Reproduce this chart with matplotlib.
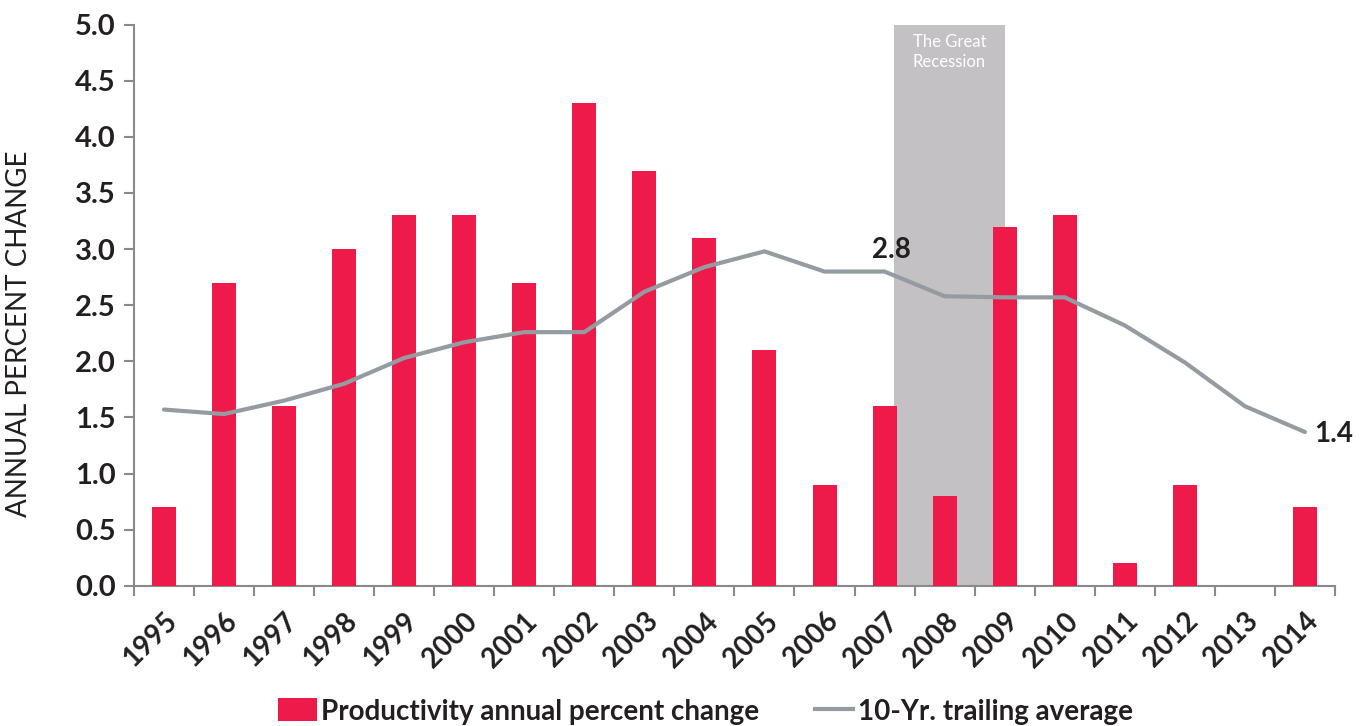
import matplotlib
matplotlib.use("Agg")
import matplotlib.pyplot as plt
from matplotlib.patches import Patch
from matplotlib.lines import Line2D

years = [str(y) for y in range(1995, 2015)]
productivity = [0.7, 2.7, 1.6, 3.0, 3.3, 3.3, 2.7, 4.3, 3.7, 3.1,
                2.1, 0.9, 1.6, 0.8, 3.2, 3.3, 0.2, 0.9, 0.0, 0.7]
trailing_avg = [1.57, 1.53, 1.65, 1.80, 2.03, 2.17, 2.26, 2.26, 2.62, 2.84,
                2.98, 2.80, 2.80, 2.58, 2.57, 2.57, 2.32, 1.99, 1.60, 1.37]
yticks = [0.0, 0.5, 1.0, 1.5, 2.0, 2.5, 3.0, 3.5, 4.0, 4.5, 5.0]
recession_start, recession_end = 12.16, 14.0
annot_points = [(12, "2.8"), (19, "1.4")]

RED = "#ED1A4A"
GRAY_LINE = "#959CA1"
BOX = "#C3C1C3"
SPINE = "#8A8A8A"
TXT = "#231F20"

plt.rcParams['font.family'] = ['Lato', 'DejaVu Sans']

fig = plt.figure(figsize=(13.64, 7.26), dpi=100)
ax = fig.add_axes([0.0982, 0.1932, 0.8805, 0.7728])

x = list(range(len(years)))
ax.axvspan(recession_start, recession_end, ymin=0, ymax=1,
           color=BOX, zorder=1, lw=0)
ax.text((recession_start + recession_end) / 2, 4.92, "The Great\nRecession",
        color="white", ha="center", va="top", fontsize=12, linespacing=1.3, zorder=2)
ax.bar(x, productivity, width=0.4, color=RED, zorder=3)
ax.plot(x, trailing_avg, color=GRAY_LINE, lw=3, zorder=4, solid_capstyle='round')

ax.text(annot_points[0][0] + 0.11, trailing_avg[annot_points[0][0]] + 0.08,
        annot_points[0][1], fontsize=20, fontweight='bold', color=TXT,
        ha='center', va='bottom')
ax.text(annot_points[1][0] + 0.16, trailing_avg[annot_points[1][0]] - 0.02,
        annot_points[1][1], fontsize=20, fontweight='bold', color=TXT,
        ha='left', va='center')

ax.set_xlim(-0.5, len(years) - 0.5)
ax.set_ylim(0, 5.0)
ax.set_yticks(yticks)
ax.set_yticklabels([f"{v:.1f}" for v in yticks], fontsize=21, fontweight='bold', color=TXT)
ax.set_xticks(x)
ax.set_xticklabels(years, rotation=45, ha='right', rotation_mode='anchor',
                   fontsize=20, fontweight='bold', color=TXT)
ax.set_xticks([i - 0.5 for i in range(len(years) + 1)], minor=True)
ax.tick_params(axis='x', which='major', length=0, pad=16)
ax.tick_params(axis='x', which='minor', length=7, width=1.5, color=SPINE, direction='out')
ax.tick_params(axis='y', length=7, width=1.5, color=SPINE, direction='out', pad=6)

for s in ['top', 'right']:
    ax.spines[s].set_visible(False)
for s in ['left', 'bottom']:
    ax.spines[s].set_color(SPINE)
    ax.spines[s].set_linewidth(1.5)

ax.set_ylabel("ANNUAL PERCENT CHANGE", fontsize=20, color=TXT)
ax.yaxis.set_label_coords(-0.085, 0.449)

handles = [Patch(facecolor=RED, edgecolor='none'),
           Line2D([0], [0], color=GRAY_LINE, lw=3)]
labels = ["Productivity annual percent change", "10-Yr. trailing average"]
leg = fig.legend(handles, labels, loc='center', bbox_to_anchor=(0.517, 0.02), ncol=2,
                 frameon=False, fontsize=20, handlelength=1.4, handletextpad=0.15,
                 columnspacing=2.0, handleheight=0.9)
for t in leg.get_texts():
    t.set_fontweight('bold')
    t.set_color(TXT)

fig.savefig("out.png", dpi=100)
